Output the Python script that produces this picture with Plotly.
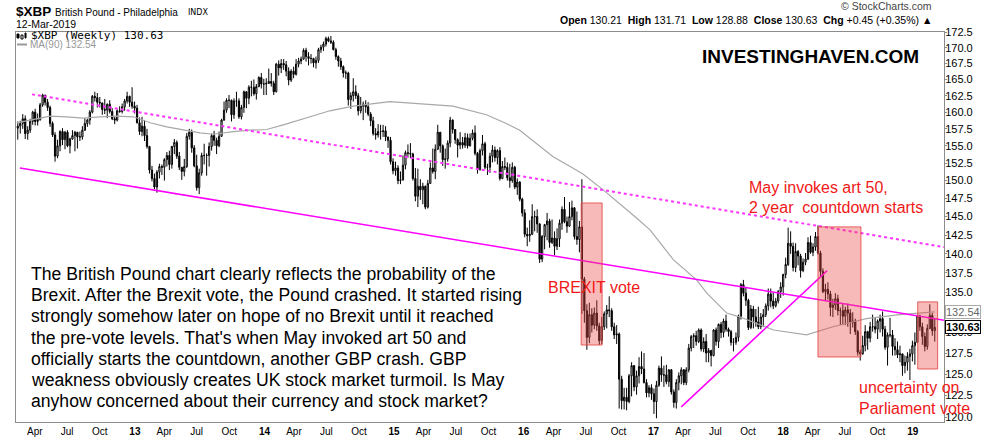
import math
import pandas as pd
import plotly.graph_objects as go

# ---------------- data (weekly candles, week start Mondays) ----------------
week_start = "2012-02-13"
first_open = 157.6

close_2012 = [157.9,158.3,159.0,156.8,157.3,158.6,160.0,158.6,158.9,161.1,162.6,161.5,160.7,158.3,156.6,153.5,155.0,157.1,155.9,157.0,155.0,156.0,156.5,157.0,156.3,156.3,157.3,158.3,158.8,160.0,162.4,162.2,161.5,161.4,160.4,160.3,161.2,160.1,159.0,158.8,160.2,160.1,160.8,161.7,162.4,161.5]
high_2012 = [158.6,158.7,159.7,159.5,157.9,159.0,160.2,160.5,159.8,161.4,162.8,162.6,162.0,161.0,158.6,157.0,155.9,157.3,157.6,157.2,157.3,156.2,157.3,157.2,157.0,157.1,157.9,159.1,159.0,160.3,162.6,163.1,162.9,162.3,161.4,162.0,161.3,161.8,160.6,159.3,160.4,160.9,161.3,162.0,163.1,162.5]
low_2012 = [155.9,156.8,157.5,156.0,155.9,156.9,158.1,158.0,158.0,158.7,160.8,161.0,160.2,157.8,156.3,152.7,153.2,154.2,155.1,154.5,154.8,153.9,155.9,154.2,154.6,155.7,155.9,157.2,157.8,158.1,159.8,161.6,160.7,160.7,159.6,159.7,159.1,159.8,158.8,158.2,158.6,159.9,159.8,160.2,161.3,160.8]

close_2013 = [160.9,160.6,158.4,157.1,157.9,156.5,154.9,151.5,150.3,149.1,151.2,152.0,151.9,153.0,153.6,152.3,154.9,155.5,153.5,151.9,151.3,152.0,156.4,157.0,154.7,152.1,149.0,151.1,153.6,153.6,153.6,154.9,156.5,155.8,155.0,156.4,158.8,160.3,161.8,161.8,159.6,161.7,161.7,159.3,160.7,163.1,162.1,163.8,163.8,162.8,163.9,165.3]
high_2013 = [163.8,161.6,161.1,159.2,159.3,158.8,157.5,155.0,152.1,151.0,151.5,152.4,152.3,153.2,154.1,154.3,155.0,156.0,155.8,154.1,151.9,153.1,156.9,157.5,157.4,155.1,153.7,151.7,154.0,155.3,153.9,155.5,156.8,157.2,156.2,157.1,159.0,161.6,162.1,162.6,161.9,162.1,163.1,162.1,161.1,163.3,163.2,164.1,164.8,165.0,164.3,165.5]
low_2013 = [160.5,159.8,158.3,156.6,156.4,155.7,154.6,151.0,149.9,148.8,148.3,150.3,150.8,150.0,152.0,151.5,151.7,153.8,153.1,151.5,150.1,150.6,151.8,155.9,154.0,151.9,148.6,148.1,150.7,152.3,150.7,152.0,154.3,155.0,153.8,154.8,156.3,158.7,159.9,160.6,158.6,159.0,160.8,159.0,158.9,159.9,160.6,161.2,162.4,162.5,161.9,163.8]

close_2014 = [164.3,164.3,164.4,164.7,164.4,163.1,167.4,166.8,167.5,167.3,166.3,164.9,166.3,165.8,167.4,167.9,168.2,169.6,168.6,168.3,168.3,167.6,168.0,169.7,170.1,170.6,171.5,171.1,170.9,169.7,168.6,167.9,167.0,166.0,166.0,161.9,162.5,163.1,162.5,160.2,160.9,161.2,160.8,159.7,158.7,156.8,156.6,157.1,157.1,157.2,156.3,155.8]
high_2014 = [166.0,165.1,165.2,166.7,166.0,164.8,167.6,168.0,168.2,168.2,167.9,166.9,166.6,167.0,168.2,168.4,168.6,169.9,170.0,169.3,169.0,168.4,168.6,170.0,170.5,171.0,171.8,171.8,171.9,171.2,170.0,168.8,168.4,167.2,166.4,166.2,163.0,165.2,164.1,162.9,162.3,161.6,161.8,161.5,160.0,159.3,157.6,158.2,158.1,158.1,157.9,156.3]
low_2014 = [163.6,162.6,162.6,164.3,163.9,162.6,163.0,165.6,166.0,166.5,165.5,164.1,164.6,165.2,165.6,166.9,167.4,168.1,167.8,167.2,167.5,166.9,166.7,167.6,169.2,169.5,170.2,170.9,170.6,169.6,168.1,167.0,166.5,165.3,165.1,161.0,160.5,161.6,162.0,159.5,159.8,158.8,159.9,159.4,157.9,156.5,155.9,156.2,155.9,156.3,155.7,154.7]

close_2015 = [152.7,151.4,151.8,150.0,150.1,152.2,154.0,153.9,153.8,150.3,147.8,149.2,148.7,149.2,146.3,149.6,151.8,151.3,154.5,157.0,155.0,153.0,153.1,155.4,158.8,157.4,155.9,155.1,155.5,155.1,156.2,155.0,156.1,156.9,153.9,151.6,154.3,155.3,151.9,151.9,153.5,154.4,153.3,154.3,150.3,152.0,151.9,150.4,150.0,151.9,149.1,149.8]
high_2015 = [156.3,153.2,152.7,152.2,151.3,153.6,154.3,155.2,155.4,154.0,151.8,151.7,150.2,149.7,149.3,150.1,152.6,154.6,155.2,158.1,157.0,155.2,154.6,155.8,159.3,158.9,157.4,156.1,157.0,156.3,156.9,156.8,156.8,157.4,158.0,154.1,154.6,156.6,155.6,152.4,154.0,155.1,154.9,154.5,154.8,152.8,153.3,152.6,152.4,152.6,152.1,150.3]
low_2015 = [152.3,150.9,150.7,149.5,149.5,150.0,151.6,153.3,153.2,150.0,147.1,146.3,147.3,146.7,146.0,146.1,149.6,151.0,150.2,154.4,154.0,152.1,151.7,152.7,154.8,156.8,155.3,153.3,154.5,154.6,154.7,154.6,154.9,155.8,153.6,151.0,151.4,153.6,151.6,150.8,151.1,152.6,152.7,152.3,150.0,150.2,151.5,150.0,149.0,149.7,148.8,148.0]

close_2016 = [147.4,145.5,142.6,142.4,142.6,145.0,145.0,144.0,139.3,142.3,143.9,144.4,141.5,142.1,141.0,142.0,144.1,146.0,144.3,143.7,145.0,146.2,142.3,141.9,143.6,136.7,132.7,129.4,132.2,130.9,132.4,130.8,129.0,130.7,132.3,132.8,132.7,130.7,129.7,129.8,124.4,121.9,122.3,121.8,124.8,126.0,123.5,124.8,125.9,125.6,124.0,122.8,123.4]
high_2016 = [149.9,147.6,146.0,143.5,144.5,146.7,145.8,146.0,144.1,142.5,144.0,145.5,144.7,144.6,143.0,143.4,144.6,146.4,147.7,145.0,147.0,147.2,146.3,145.7,144.4,150.2,137.0,133.5,133.7,133.0,133.1,134.0,131.2,131.9,132.6,133.4,134.5,133.0,131.2,130.9,130.0,124.8,123.4,123.4,125.0,126.4,126.0,125.4,127.0,127.7,127.5,124.4,123.7]
low_2016 = [147.1,145.0,142.2,141.0,141.6,142.5,143.0,142.8,138.8,138.9,140.6,141.8,140.8,141.3,139.8,140.5,140.9,143.2,144.1,142.8,143.6,144.5,141.9,141.2,140.2,132.3,131.2,127.9,128.7,130.0,130.4,130.2,128.5,128.6,130.3,130.5,131.9,130.2,129.2,128.6,121.0,120.9,120.9,120.8,121.6,122.4,123.0,122.6,123.9,125.0,123.9,122.3,122.3]

close_2017 = [122.7,121.8,123.7,125.7,124.9,124.9,124.1,125.5,122.9,121.7,124.0,124.8,125.5,124.0,125.5,128.1,129.5,129.6,128.9,130.3,128.0,128.9,127.5,127.8,127.2,130.3,128.9,131.0,130.0,131.4,130.4,130.1,128.8,128.8,129.4,132.0,136.0,134.9,134.0,130.6,132.9,131.9,131.3,130.7,131.9,132.2,133.3,134.8,133.9,133.3,133.9,135.1]
high_2017 = [123.8,123.3,124.2,126.0,127.1,126.0,126.1,125.6,125.6,123.2,124.4,125.2,125.8,125.6,125.8,128.6,129.7,129.9,130.2,130.5,130.5,129.4,129.8,128.1,127.9,130.4,130.6,131.1,131.3,131.7,132.2,130.6,130.3,129.3,130.0,132.2,136.2,136.6,135.7,134.2,133.4,133.3,132.9,133.2,132.4,132.9,133.6,135.5,135.5,135.0,134.3,135.3]
low_2017 = [122.0,120.4,119.9,123.5,124.1,123.5,123.8,123.5,122.6,121.1,121.0,123.1,123.8,123.7,123.7,125.2,127.7,128.1,128.4,128.7,127.7,127.6,126.4,126.4,125.9,127.1,128.4,128.1,129.3,129.4,130.1,129.5,128.4,127.7,128.5,128.9,131.6,134.5,133.3,130.3,130.4,130.5,130.7,130.4,130.4,130.7,131.9,132.7,133.1,132.9,133.1,133.6]

close_2018 = [135.7,137.3,138.6,141.4,141.0,138.2,140.3,139.7,137.8,138.9,139.3,141.5,140.2,140.9,142.3,140.1,137.7,135.1,135.4,134.8,133.1,133.4,134.2,132.7,132.7,132.0,132.8,132.4,131.2,131.4,130.1,127.6,127.4,128.4,130.1,129.3,130.7,130.7,130.4,131.4,131.7,130.4,128.2,129.7,129.7,128.3,127.9,127.3,127.4,126.0,126.4,127.1]
high_2018 = [136.3,137.4,139.5,143.5,143.0,141.5,141.4,140.5,140.0,139.4,140.1,142.2,142.4,141.4,142.9,143.8,140.4,138.1,136.1,136.3,135.2,134.2,134.9,134.7,133.1,133.6,133.2,133.6,132.9,132.5,131.7,130.3,127.9,129.6,130.9,130.2,131.3,132.2,131.8,131.6,132.2,132.6,130.8,130.0,131.8,130.3,129.3,128.9,128.4,127.4,127.2,127.6]
low_2018 = [134.3,134.6,136.8,138.4,140.0,137.7,137.6,138.5,136.9,137.6,138.5,139.2,140.0,139.7,140.4,139.9,137.1,134.9,133.9,134.1,132.0,131.9,132.8,132.1,130.9,130.9,130.9,130.7,129.8,130.6,129.7,127.2,126.6,127.3,127.7,127.9,128.8,130.1,129.9,129.2,130.0,129.5,127.9,126.0,129.4,127.2,127.2,126.9,126.4,124.8,125.1,125.4]

close_2019 = [127.4,128.4,128.8,132.0,130.7,129.5,128.3,130.5,132.1,130.21,130.63]
high_2019 = [128.0,129.0,130.0,132.2,132.2,131.2,130.0,131.0,133.5,132.4,131.71]
low_2019 = [124.3,126.5,126.1,128.7,130.2,128.5,127.7,127.9,130.4,129.6,128.88]

# 90-week moving average
ma_dates = ["2012-02-10","2012-03-28","2012-05-14","2012-06-30","2012-08-15","2012-10-01","2012-11-17",
            "2013-01-04","2013-02-20","2013-04-08","2013-05-25","2013-07-10","2013-08-17","2013-10-12","2013-11-28",
            "2014-01-14","2014-03-02","2014-04-18","2014-06-04","2014-07-11","2014-09-15","2014-12-27",
            "2015-03-21","2015-06-23","2015-09-25","2015-11-20","2015-12-28","2016-02-13","2016-03-31",
            "2016-05-18","2016-06-24","2016-08-19","2016-10-05","2016-11-21","2016-12-29","2017-03-05",
            "2017-05-09","2017-06-07","2017-08-02","2017-09-09","2017-12-12","2018-03-15","2018-05-28",
            "2018-08-30","2018-12-02","2019-03-11"]
ma_values = [158.4,158.9,159.4,159.3,159.1,159.3,159.4,
             159.3,158.4,157.8,157.3,156.9,156.7,157.1,157.3,
             157.4,158.1,158.8,159.6,160.2,160.9,161.6,
             161.3,160.9,159.6,158.3,157.3,155.4,153.4,
             152.0,150.9,148.7,146.8,144.8,143.2,139.2,
             136.6,134.9,132.4,131.9,130.3,129.7,130.7,
             131.7,132.2,132.54]

# trend lines (start/end date, start/end price)
support_dates = ["2012-02-19", "2019-04-06"]; support_vals = [151.8, 131.5]
resist_dates = ["2012-03-24", "2019-04-06"]; resist_vals = [162.7, 140.9]
rise_dates = ["2017-03-27", "2018-05-12"]; rise_vals = [121.2, 137.8]

# highlighted periods (start, end, low, high)
box_periods = [("2016-06-18", "2016-08-16", 128.47, 146.87),
               ("2018-04-16", "2018-08-15", 127.03, 143.6),
               ("2019-01-22", "2019-03-19", 125.6, 133.8)]

y_ticks = [120.0 + 2.5 * k for k in range(22)]
x_tick_dates = []
x_tick_text = []
for yr in range(2012, 2020):
    for m, lab in [(1, None), (4, "Apr"), (7, "Jul"), (10, "Oct")]:
        if yr == 2012 and m == 1:
            continue
        if yr == 2019 and m > 1:
            continue
        if m == 1:
            x_tick_dates.append(f"{yr}-01-08")
            x_tick_text.append(f"<b>{str(yr)[2:]}</b>")
        else:
            x_tick_dates.append(f"{yr}-{m:02d}-01")
            x_tick_text.append(lab)

closes = close_2012 + close_2013 + close_2014 + close_2015 + close_2016 + close_2017 + close_2018 + close_2019
highs = high_2012 + high_2013 + high_2014 + high_2015 + high_2016 + high_2017 + high_2018 + high_2019
lows = low_2012 + low_2013 + low_2014 + low_2015 + low_2016 + low_2017 + low_2018 + low_2019
opens = [first_open] + closes[:-1]
dates = pd.date_range(week_start, periods=len(closes), freq="7D")

# ---------------- figure ----------------
FONT = "Liberation Sans, Arial, sans-serif"
RED = "#F01818"
L, R, T, B = 16, 46, 32, 16
W, H = 990, 438
PW, PH = W - L - R, H - T - B


def px(x):
    return (x - L) / PW


def py(y):
    return (H - B - y) / PH


fig = go.Figure()

fig.add_trace(go.Scatter(x=ma_dates, y=ma_values, mode="lines",
                         line=dict(color="#A8A8A8", width=1.2), hoverinfo="skip"))

fig.add_trace(go.Candlestick(
    x=dates, open=opens, high=highs, low=lows, close=closes,
    increasing=dict(line=dict(color="black", width=1), fillcolor="white"),
    decreasing=dict(line=dict(color="black", width=1), fillcolor="black"),
    whiskerwidth=0, hoverinfo="skip"))

fig.add_trace(go.Scatter(x=support_dates, y=support_vals, mode="lines",
                         line=dict(color="#FF00FF", width=1.5), hoverinfo="skip"))
fig.add_trace(go.Scatter(x=resist_dates, y=resist_vals, mode="lines",
                         line=dict(color="#FF33FF", width=2, dash="dot"), hoverinfo="skip"))
fig.add_trace(go.Scatter(x=rise_dates, y=rise_vals, mode="lines",
                         line=dict(color="#FF00FF", width=1.5), hoverinfo="skip"))

for d0, d1, lo, hi in box_periods:
    fig.add_trace(go.Scatter(x=[d0, d1, d1, d0, d0], y=[lo, lo, hi, hi, lo], mode="lines",
                             fill="toself", fillcolor="rgba(236,70,70,0.38)",
                             line=dict(color="rgba(228,70,70,0.85)", width=1), hoverinfo="skip"))

ann = []


def text(x, y, s, size=16, color="black", anchor="left", family=FONT, vanchor="middle"):
    ann.append(dict(x=px(x), y=py(y), xref="paper", yref="paper", text=s, showarrow=False,
                    xanchor=anchor, yanchor=vanchor, font=dict(family=family, size=size, color=color)))


# header
text(14, 12, "<b>$XBP</b>", size=13.5)
text(53, 12.5, "British Pound - Philadelphia", size=10)
text(186, 12.5, "INDX", size=8, family="DejaVu Sans")
text(14, 23.5, "12-Mar-2019", size=10.5)
text(934, 6, "© StockCharts.com", size=10.5, color="#444444", anchor="right")
text(934, 20, "<b>Open</b> 130.21  <b>High</b> 131.71  <b>Low</b> 128.88  <b>Close</b> 130.63  <b>Chg</b> +0.45 (+0.35%) ▲",
     size=10.5, anchor="right")

# legend
text(29, 36, "$XBP (Weekly) 130.63", size=11, family="DejaVu Sans Mono, Liberation Mono, monospace")
text(28, 44.5, "MA(90) 132.54", size=10, color="#999999")

# watermark
text(810, 56, "<b>INVESTINGHAVEN.COM</b>", size=19, anchor="center")

# paragraph
para = ["The British Pound chart clearly reflects the probability of the",
        "Brexit. After the Brexit vote, the Pound crashed. It started rising",
        "strongly somehow later on hope of no Brexit until it reached",
        "the pre-vote levels. That's when May invoked art 50 and",
        "officially starts the countdown, another GBP crash. GBP",
        "weakness obviously creates UK stock market turmoil. Is May",
        "anyhow concerned about their currency and stock market?"]
for i, line in enumerate(para):
    text(29, 274 + 21.2 * i, line, size=17.6)

text(546, 287, "BREXIT vote", size=16, color=RED)
text(747, 187, "May invokes art 50,", size=16, color=RED)
text(747, 208, "2 year\u00a0 countdown starts", size=16, color=RED)
text(857, 387, "uncertainty on", size=16, color=RED)
text(857, 408, "Parliament vote", size=16, color=RED)

# price tags on right axis
ann.append(dict(x=px(945), y=math.log10(132.54), xref="paper", yref="y", text="132.54", showarrow=False,
                xanchor="left", yanchor="middle", font=dict(family=FONT, size=11, color="#666666"),
                bgcolor="white", bordercolor="#AAAAAA", borderwidth=1, borderpad=0))
ann.append(dict(x=px(945), y=math.log10(130.63), xref="paper", yref="y", text="<b>130.63</b>", showarrow=False,
                xanchor="left", yanchor="middle", font=dict(family=FONT, size=11, color="black"),
                bgcolor="white", bordercolor="black", borderwidth=1, borderpad=0))

shapes = [
    dict(type="line", xref="paper", yref="paper", x0=px(17), x1=px(27), y0=py(44.5), y1=py(44.5),
         line=dict(color="#999999", width=2)),
    dict(type="rect", xref="paper", yref="paper", x0=px(17), x1=px(19), y0=py(38), y1=py(34),
         line=dict(color="black", width=1), fillcolor="black"),
    dict(type="rect", xref="paper", yref="paper", x0=px(21), x1=px(23), y0=py(39), y1=py(35),
         line=dict(color="black", width=1), fillcolor="white"),
    dict(type="rect", xref="paper", yref="paper", x0=px(25), x1=px(26), y0=py(38), y1=py(33),
         line=dict(color="black", width=1), fillcolor="black"),
]

fig.update_layout(
    width=W, height=H, margin=dict(l=L, r=R, t=T, b=B, autoexpand=False),
    paper_bgcolor="white", plot_bgcolor="white", showlegend=False,
    annotations=ann, shapes=shapes,
    xaxis=dict(type="date", range=["2012-02-08", "2019-04-06"], rangeslider=dict(visible=False),
               automargin=False,
               showgrid=False, showline=True, linecolor="#8C8C8C", linewidth=1, mirror=True,
               tickvals=x_tick_dates, ticktext=x_tick_text, ticks="",
               tickfont=dict(family=FONT, size=10, color="black")),
    yaxis=dict(type="log", side="right", range=[math.log10(119.48), math.log10(172.55)],
               automargin=False,
               showgrid=False, showline=True, linecolor="#8C8C8C", linewidth=1, mirror=True,
               tickvals=y_ticks, ticktext=[f"{v:.1f}" for v in y_ticks],
               ticks="outside", ticklen=2, tickcolor="#8C8C8C", ticklabelstandoff=-4,
               tickfont=dict(family=FONT, size=11, color="black")),
)

fig.write_html("out.html")
